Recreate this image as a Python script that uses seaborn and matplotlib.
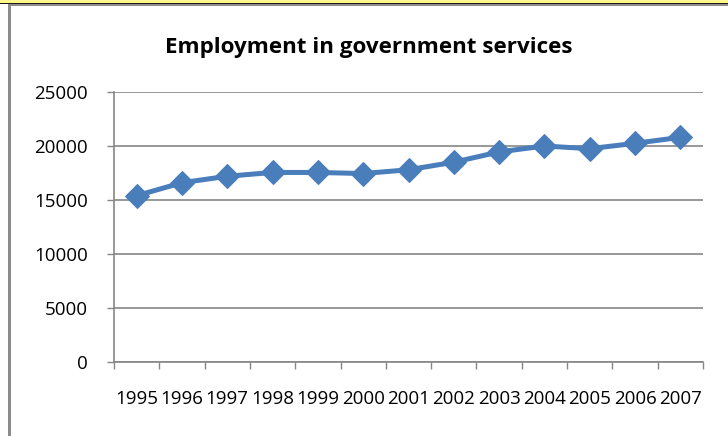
import numpy as np
import pandas as pd
import matplotlib
matplotlib.use("Agg")
import matplotlib.pyplot as plt
from matplotlib.patches import Rectangle
import seaborn as sns

years = ["1995", "1996", "1997", "1998", "1999", "2000", "2001",
         "2002", "2003", "2004", "2005", "2006", "2007"]
employment = [15400, 16600, 17200, 17550, 17550, 17450, 17800,
              18500, 19450, 20000, 19750, 20250, 20800]
y_ticks = [0, 5000, 10000, 15000, 20000, 25000]
title = "Employment in government services"

sns.set_theme(style="white")
plt.rcParams["font.family"] = ["Open Sans", "DejaVu Sans"]

W, H, DPI = 728, 436, 100
fig = plt.figure(figsize=(W / DPI, H / DPI), dpi=DPI)
fig.patch.set_facecolor("white")

# plot area in pixel coordinates
left, right, top, bottom = 114, 703, 92, 362
ax = fig.add_axes([left / W, 1 - bottom / H, (right - left) / W, (bottom - top) / H])

df = pd.DataFrame({"year": years, "employment": employment})
blue = "#4A7EBB"
grid_gray = "#868686"

sns.lineplot(data=df, x="year", y="employment", ax=ax, sort=False,
             color=blue, linewidth=3.6, marker="D", markersize=12,
             markeredgecolor=blue, markerfacecolor=blue, zorder=3)

n = len(years)
ax.set_xlim(-0.5, n - 0.5)
ax.set_ylim(0, 25000)
ax.set_xlabel("")
ax.set_ylabel("")

# tick marks sit between categories, labels at category centres
ax.set_xticks(np.arange(-0.5, n, 1.0))
ax.set_xticklabels([])
ax.set_xticks(np.arange(n), minor=True)
ax.set_xticklabels(years, minor=True)
ax.tick_params(axis="x", which="major", length=5, width=1, color=grid_gray,
               direction="out", bottom=True)
ax.tick_params(axis="x", which="minor", length=0, pad=20, labelsize=13.5,
               labelcolor="black", bottom=True)

ax.set_yticks(y_ticks)
ax.set_yticklabels([str(v) for v in y_ticks])
ax.tick_params(axis="y", length=5, width=1, color=grid_gray, direction="out",
               pad=14, labelsize=13.5, labelcolor="black", left=True)

ax.yaxis.grid(True, color=grid_gray, linewidth=1.2)
ax.xaxis.grid(False)
ax.set_axisbelow(True)
for side in ("top", "right"):
    ax.spines[side].set_visible(False)
for side in ("left", "bottom"):
    ax.spines[side].set_color(grid_gray)
    ax.spines[side].set_linewidth(1.2)

fig.text(368.5 / W, 1 - 47.5 / H, title, ha="center", va="center",
         fontsize=16.1, fontweight="bold", color="black")

# surrounding page strip and chart frame
def px_rect(x0, y0, w, h, color):
    fig.add_artist(Rectangle((x0 / W, 1 - (y0 + h) / H), w / W, h / H,
                             transform=fig.transFigure, facecolor=color,
                             edgecolor="none", zorder=10))

px_rect(0, 0, W, 3, "#FFF78C")
px_rect(0, 3, W, 1.3, "#1a1a1a")
px_rect(9, 4.3, W - 9, 2, "#8c8c8c")
px_rect(8, 4.3, 3, H - 4.3, "#8c8c8c")

fig.savefig("out.png", dpi=DPI)
